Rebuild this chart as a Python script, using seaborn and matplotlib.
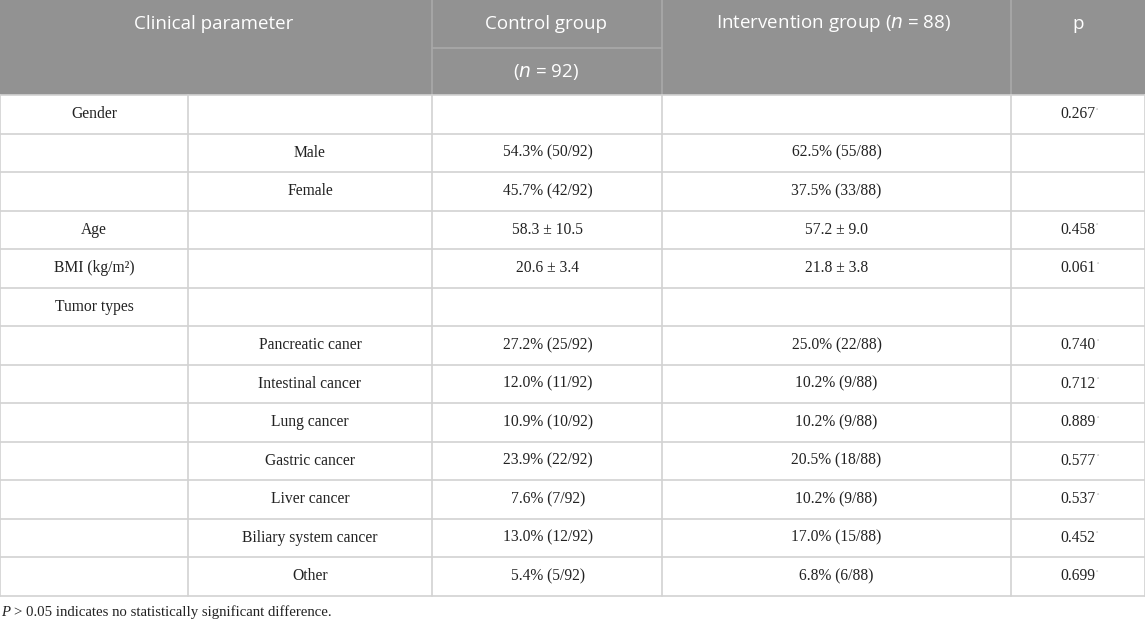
import matplotlib
matplotlib.use("Agg")
import matplotlib.pyplot as plt
import seaborn as sns

# table content
param_labels = ["Gender", "", "", "Age", "BMI (kg/m²)", "Tumor types",
                "", "", "", "", "", "", ""]
sub_labels = ["", "Male", "Female", "", "", "",
              "Pancreatic caner", "Intestinal cancer", "Lung cancer",
              "Gastric cancer", "Liver cancer", "Biliary system cancer", "Other"]
control_vals = ["", "54.3% (50/92)", "45.7% (42/92)", "58.3 ± 10.5", "20.6 ± 3.4", "",
                "27.2% (25/92)", "12.0% (11/92)", "10.9% (10/92)", "23.9% (22/92)",
                "7.6% (7/92)", "13.0% (12/92)", "5.4% (5/92)"]
interv_vals = ["", "62.5% (55/88)", "37.5% (33/88)", "57.2 ± 9.0", "21.8 ± 3.8", "",
               "25.0% (22/88)", "10.2% (9/88)", "10.2% (9/88)", "20.5% (18/88)",
               "10.2% (9/88)", "17.0% (15/88)", "6.8% (6/88)"]
p_vals = ["0.267", "", "", "0.458", "0.061", "",
          "0.740", "0.712", "0.889", "0.577", "0.537", "0.452", "0.699"]

footnote = "> 0.05 indicates no statistically significant difference."

sns.set_theme(style="white")
plt.rcParams["font.family"] = ["DejaVu Sans"]

W, H = 1145, 621
fig = plt.figure(figsize=(W / 100, H / 100), dpi=100)
ax = fig.add_axes([0, 0, 1, 1])
ax.set_xlim(0, W)
ax.set_ylim(H, 0)
ax.axis("off")

col_edges = [0, 188, 432, 662, 1011, 1145]
header_bottom = 95
row_h = 38.5
n_rows = len(param_labels)
table_bottom = header_bottom + n_rows * row_h

head_col = "#929292"
head_line = "#a9a9a9"
grid_col = "#d2d2d2"
serif = "Liberation Serif"
sans = "Open Sans"

# header background
ax.add_patch(plt.Rectangle((0, 0), W, header_bottom, color=head_col, lw=0, zorder=0))
for x in [432, 662, 1011]:
    ax.plot([x, x], [0, header_bottom], color=head_line, lw=1.2, zorder=1)
ax.plot([432, 662], [48, 48], color=head_line, lw=1.2, zorder=1)

hkw = dict(color="white", fontsize=13.5, family=sans, ha="center", va="center")
ax.text(214, 24, "Clinical parameter", **hkw)
ax.text(546, 24, "Control group", **hkw)
ax.text(546, 72, "($n$ = 92)", **hkw)
ax.text(834, 24, "Intervention group ($n$ = 88)", **hkw)
ax.text(1078, 24, "p", **hkw)

# body grid
for i in range(n_rows + 1):
    y = header_bottom + i * row_h
    ax.plot([0, W], [y, y], color=grid_col, lw=1.2, zorder=1)
for x in col_edges:
    ax.plot([x, x], [header_bottom, table_bottom], color=grid_col, lw=1.2, zorder=1)

centers = [(a + b) / 2 for a, b in zip(col_edges[:-1], col_edges[1:])]
bkw = dict(color="#222222", fontsize=11.25, family=serif, ha="center", va="center")
for i in range(n_rows):
    y = header_bottom + (i + 0.5) * row_h
    ax.text(centers[0], y, param_labels[i], **bkw)
    ax.text(centers[1], y, sub_labels[i], **bkw)
    ax.text(centers[2] + 1, y, control_vals[i], **bkw)
    ax.text(centers[3], y, interv_vals[i], **bkw)
    if p_vals[i]:
        t = ax.text(centers[4], y, p_vals[i], **bkw)
        ax.annotate("a", xy=(1, 1), xycoords=t, xytext=(0.5, -0.5),
                    textcoords="offset points", fontsize=3.5, color="#aaaaaa",
                    family=serif, ha="left", va="top")

ax.text(1, 612, "P", fontsize=10.6, family=serif, color="#222222", ha="left", va="center",
        style="italic")
ax.text(14, 612, footnote, fontsize=10.6, family=serif, color="#222222", ha="left", va="center")

fig.savefig("out.png", dpi=100)
